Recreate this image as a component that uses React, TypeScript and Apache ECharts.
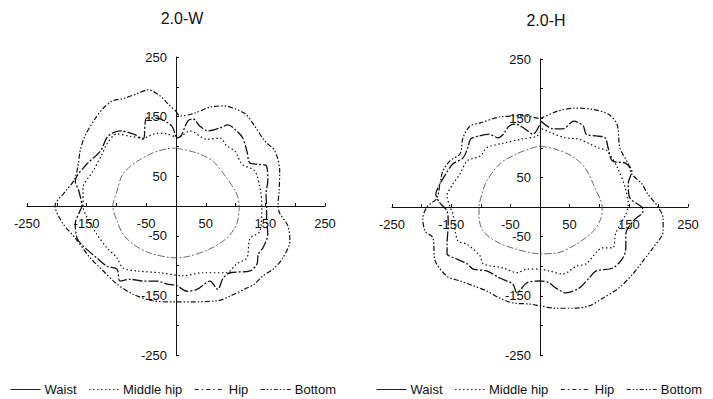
import React, { useEffect, useRef } from "react";
import * as echarts from "echarts";

// ---- Data (x, y) points, in axis units ----
const titles = ["2.0-W", "2.0-H"];
const seriesNames = ["Waist", "Middle hip", "Hip", "Bottom"];
const tickMin = -250;
const tickMax = 250;
const tickStep = 100;

// Chart 2.0-W
const wWaist: number[][] = [
  [0, 97], [35, 89], [62, 75], [85, 47], [102, 20], [106, 0], [102, -30], [85, -54], [57, -72], [23, -84],
  [0, -87], [-44, -79], [-72, -64], [-89, -47], [-99, -25], [-106, 0], [-99, 25], [-89, 54], [-65, 75],
  [-39, 89], [-15, 96], [0, 97],
];
const wMiddleHip: number[][] = [
  [0, 115], [10, 118], [23, 126], [52, 112], [74, 114], [85, 101], [99, 92], [111, 70], [132, 59], [141, 30],
  [144, 0], [141, -42], [124, -55], [119, -87], [102, -97], [85, -112], [45, -112], [12, -117], [-27, -112],
  [-65, -109], [-89, -104], [-99, -87], [-116, -70], [-133, -47], [-149, -20], [-156, 0], [-156, 30],
  [-139, 59], [-124, 87], [-116, 104], [-99, 121], [-77, 117], [-55, 114], [-32, 122], [-15, 121], [0, 115],
];
const wHip: number[][] = [
  [0, 114], [8, 117], [20, 143], [29, 146], [40, 134], [54, 126], [74, 131], [87, 136], [102, 126], [112, 114],
  [119, 92], [124, 72], [138, 70], [152, 67], [154, 42], [151, 20], [152, 0], [152, -20], [154, -47],
  [146, -70], [138, -81], [136, -97], [124, -109], [91, -112], [79, -121], [70, -140], [57, -126], [35, -140],
  [18, -143], [2, -134], [-15, -131], [-32, -126], [-55, -126], [-77, -123], [-94, -126], [-99, -106],
  [-116, -101], [-133, -87], [-156, -67], [-166, -54], [-169, -30], [-161, -8], [-158, 0], [-163, 25],
  [-169, 42], [-150, 70], [-127, 92], [-114, 117], [-94, 126], [-70, 120], [-55, 112], [-49, 148],
  [-27, 146], [-7, 134], [0, 114],
];
const wBottom: number[][] = [
  [0, 159], [7, 151], [32, 156], [57, 166], [82, 168], [99, 163], [117, 154], [132, 134], [149, 109],
  [166, 92], [174, 59], [173, 25], [171, 0], [174, -12], [188, -34], [191, -59], [178, -89], [163, -106],
  [146, -117], [132, -131], [116, -139], [91, -151], [70, -159], [0, -161], [-39, -159], [-72, -148],
  [-99, -131], [-127, -104], [-144, -87], [-169, -54], [-190, -29], [-203, 0], [-185, 25], [-170, 45],
  [-164, 70], [-161, 92], [-153, 117], [-136, 146], [-122, 164], [-107, 176], [-86, 181], [-64, 189],
  [-47, 195], [-27, 185], [-13, 171], [0, 159],
];

// Chart 2.0-H
const hWaist: number[][] = [
  [0, 103], [25, 98], [54, 86], [76, 66], [93, 32], [105, 0], [103, -19], [90, -41], [61, -63], [27, -78],
  [0, -79], [-12, -78], [-41, -71], [-69, -61], [-96, -41], [-103, -15], [-103, 0], [-97, 25], [-90, 44],
  [-68, 73], [-39, 90], [-12, 100], [0, 103],
];
const hMiddleHip: number[][] = [
  [3, 132], [20, 125], [42, 117], [64, 115], [81, 108], [98, 100], [113, 95], [132, 64], [144, 32], [149, 5],
  [145, -12], [128, -44], [123, -69], [106, -69], [78, -96], [61, -100], [39, -113], [15, -108], [0, -105],
  [-22, -105], [-39, -111], [-62, -103], [-96, -96], [-101, -83], [-123, -63], [-139, -57], [-147, -12],
  [-152, 0], [-157, 19], [-147, 39], [-135, 56], [-123, 78], [-101, 86], [-90, 100], [-62, 108], [-29, 115],
  [-5, 120], [3, 132],
];
const hHip: number[][] = [
  [2, 145], [22, 132], [39, 132], [57, 145], [73, 137], [78, 123], [95, 120], [110, 117], [115, 100],
  [122, 78], [144, 74], [155, 61], [149, 39], [152, 15], [172, 0], [174, -7], [157, -24], [145, -46],
  [145, -69], [140, -86], [123, -103], [95, -108], [83, -120], [66, -137], [44, -145], [27, -137], [15, -128],
  [0, -125], [-22, -128], [-39, -145], [-46, -130], [-68, -120], [-90, -108], [-113, -105], [-123, -96],
  [-140, -88], [-157, -79], [-157, -63], [-155, -29], [-157, -7], [-170, 8], [-176, 22], [-171, 35],
  [-159, 56], [-147, 73], [-130, 83], [-122, 100], [-117, 115], [-103, 120], [-86, 123], [-71, 117],
  [-62, 123], [-52, 137], [-41, 140], [-27, 133], [-12, 123], [2, 145],
];
const hBottom: number[][] = [
  [0, 149], [30, 162], [59, 167], [88, 165], [115, 157], [130, 140], [135, 100], [149, 73], [155, 56],
  [172, 39], [182, 22], [198, 2], [208, -19], [208, -41], [191, -69], [174, -91], [157, -113], [133, -137],
  [106, -154], [83, -167], [56, -171], [27, -171], [0, -167], [-17, -164], [-46, -162], [-68, -154],
  [-90, -142], [-113, -133], [-135, -125], [-157, -117], [-177, -91], [-181, -52], [-194, -41], [-198, -19],
  [-191, 0], [-174, 15], [-169, 39], [-164, 61], [-152, 78], [-135, 90], [-130, 117], [-118, 137],
  [-101, 142], [-68, 152], [-29, 154], [0, 149],
];

const chartData = [
  [wWaist, wMiddleHip, wHip, wBottom],
  [hWaist, hMiddleHip, hHip, hBottom],
];

const FONT = "Liberation Sans, Arial, sans-serif";

const lineStyles = [
  { type: [7, 2, 2, 2], width: 0.8, color: "#444" },
  { type: [1.5, 2.5], width: 1.2, color: "#111" },
  { type: [10, 2, 2, 2], width: 1.3, color: "#111" },
  { type: [5, 2, 1.5, 2, 1.5, 2], width: 1.2, color: "#111" },
];
const legendLineStyles = [
  { type: "solid", width: 1, color: "#222" },
  { type: [1.5, 2.5], width: 1, color: "#222" },
  { type: [4, 3, 1.5, 3], width: 1, color: "#222" },
  { type: [4, 2, 1.5, 2, 1.5, 2], width: 1, color: "#222" },
];

const grids = [
  { left: 27, top: 57, width: 298, height: 298 },
  { left: 392, top: 59, width: 296, height: 296 },
];

export default function App() {
  const ref = useRef<HTMLDivElement>(null);
  useEffect(() => {
    if (!ref.current) return;
    const chart = echarts.init(ref.current, undefined, { renderer: "svg" });
    const axisCommon = {
      type: "value",
      min: tickMin,
      max: tickMax,
      interval: tickStep,
      splitLine: { show: false },
      axisLine: { onZero: false, lineStyle: { color: "#111", width: 1 } },
      axisTick: { show: true, inside: true, length: 3, lineStyle: { color: "#111" } },
      minorTick: { show: true, splitNumber: 2, length: 3, lineStyle: { color: "#111" } },
    };
    const series: any[] = [];
    chartData.forEach((curves, gi) => {
      curves.forEach((pts, si) => {
        series.push({
          type: "line",
          name: seriesNames[si],
          xAxisIndex: gi,
          yAxisIndex: gi,
          data: pts,
          showSymbol: false,
          symbol: "none",
          smooth: 0.3,
          lineStyle: lineStyles[si],
          itemStyle: { color: lineStyles[si].color },
          z: 3,
        });
      });
    });
    const legendFor = (left: number) => ({
      left,
      top: 383,
      padding: 0,
      data: seriesNames.map((n, i) => ({
        name: n,
        itemStyle: { opacity: 0 },
        lineStyle: legendLineStyles[i],
      })),
      itemWidth: 30,
      itemHeight: 14,
      itemGap: 12,
      textStyle: { fontFamily: FONT, fontSize: 13, color: "#111", padding: [0, 0, 0, -1] },
      selectedMode: false,
    });
    chart.setOption({
      animation: false,
      backgroundColor: "#fff",
      title: [
        { text: titles[0], left: 177, top: 5, textAlign: "center", textStyle: { fontFamily: FONT, fontSize: 16, fontWeight: "normal", color: "#111" } },
        { text: titles[1], left: 541, top: 7, textAlign: "center", textStyle: { fontFamily: FONT, fontSize: 16, fontWeight: "normal", color: "#111" } },
      ],
      grid: grids,
      xAxis: [0, 1].map((i) => ({
        ...axisCommon,
        gridIndex: i,
        position: "bottom",
        offset: -grids[i].height / 2,
        axisLabel: { fontFamily: FONT, fontSize: 13, color: "#111", margin: 11 },
      })),
      yAxis: [0, 1].map((i) => ({
        ...axisCommon,
        gridIndex: i,
        position: "left",
        offset: -grids[i].width / 2,
        axisLabel: { fontFamily: FONT, fontSize: 13, color: "#111", margin: 9 },
      })),
      legend: [legendFor(10), legendFor(376)],
      series,
    });
    return () => chart.dispose();
  }, []);
  return <div ref={ref} style={{ width: 713, height: 399, position: "absolute", left: 0, top: 0 }} />;
}
